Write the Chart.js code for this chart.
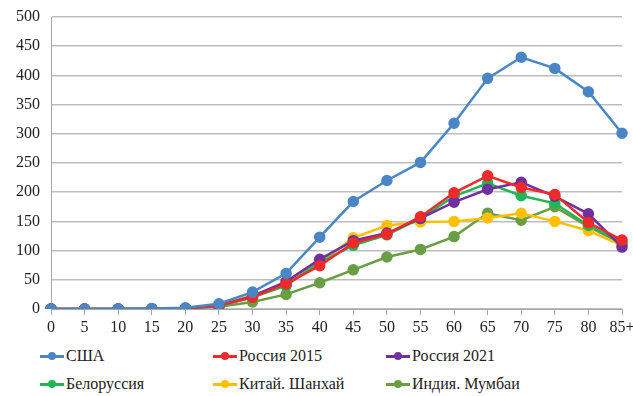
<!DOCTYPE html>
<html>
<head>
<meta charset="utf-8">
<script src="https://cdn.jsdelivr.net/npm/chart.js@4"></script>
<style>
  body { margin: 0; background: #fff; }
  #wrap { position: relative; width: 633px; height: 340px; }
  #legend { position: relative; width: 633px; height: 56px; color: #222; }
  .lab { position: absolute; white-space: nowrap; font-family: 'Liberation Serif'; font-size: 16px; line-height: 20px; }
  .mark { position: absolute; width: 24px; height: 10px; }
  .mark .ln { position: absolute; left: 0; right: 0; top: 4px; height: 2.5px; }
  .mark .pt { position: absolute; left: 8px; top: 1px; width: 8px; height: 8px; border-radius: 50%; }
</style>
</head>
<body>
<div id="wrap"><canvas id="ageChart" width="633" height="340"></canvas></div>
<div id="legend">
  <div class="lab" style="left:66px;top:6px">США</div>
  <div class="lab" style="left:239px;top:6px">Россия 2015</div>
  <div class="lab" style="left:412px;top:6px">Россия 2021</div>
  <div class="lab" style="left:66px;top:34px">Белоруссия</div>
  <div class="lab" style="left:239px;top:34px">Китай. Шанхай</div>
  <div class="lab" style="left:412px;top:34px">Индия. Мумбаи</div>
</div>
<script>
// age groups
const ages = ["0", "5", "10", "15", "20", "25", "30", "35", "40", "45", "50", "55", "60", "65", "70", "75", "80", "85+"];

// values per age group
const usa = [0, 0, 0, 1, 2, 9, 29, 61, 123, 184, 220, 251, 318, 395, 431, 412, 372, 301];
const russia2015 = [0, 0, 0, 0, 1, 6, 20, 43, 74, 113, 128, 158, 199, 228, 208, 196, 148, 118];
const russia2021 = [0, 0, 0, 0, 1, 6, 22, 47, 85, 117, 130, 155, 183, 205, 217, 193, 163, 106];
const belarus = [0, 0, 0, 0, 1, 5, 20, 40, 80, 109, 127, 155, 193, 215, 194, 181, 143, 114];
const shanghai = [0, 0, 0, 0, 1, 6, 23, 45, 79, 122, 143, 149, 150, 156, 164, 150, 134, 109];
const mumbai = [0, 0, 0, 0, 1, 4, 12, 25, 45, 67, 89, 102, 124, 164, 152, 175, 141, 112];

const names = ["США", "Россия 2015", "Россия 2021", "Белоруссия", "Китай. Шанхай", "Индия. Мумбаи"];
const colors = ["#4A86C5", "#EE2A2A", "#7030A0", "#22B556", "#FFC000", "#6A9E45"];
const series = [usa, russia2015, russia2021, belarus, shanghai, mumbai];

const font = { family: "'Liberation Serif'", size: 16 };

function draw() {
  Chart.defaults.font.family = "'Liberation Serif'";
  const chart = new Chart("ageChart", {
    type: "line",
    data: {
      labels: ages,
      datasets: series.map((d, i) => ({
        label: names[i],
        data: d,
        borderColor: colors[i],
        backgroundColor: colors[i],
        borderWidth: 2.5,
        pointRadius: 4.5,
        pointHoverRadius: 4.5,
        tension: 0
      }))
    },
    options: {
      responsive: false,
      animation: false,
      layout: { padding: { left: 0, right: 11, top: 17, bottom: 0 } },
      plugins: { legend: { display: false }, tooltip: { enabled: false } },
      scales: {
        x: {
          offset: false,
          grid: { drawOnChartArea: false, drawTicks: true, tickLength: 6, color: "#A6A6A6" },
          border: { color: "#A6A6A6" },
          ticks: { font: font, color: "#222", padding: 3, maxRotation: 0, autoSkip: false },
          afterFit: s => { s.height = 31; s.paddingLeft = 0; s.paddingRight = 0; }
        },
        y: {
          min: 0, max: 500,
          grid: { color: "#BDBDBD", lineWidth: 1.5, drawTicks: false },
          border: { color: "#A6A6A6" },
          ticks: { stepSize: 50, font: font, color: "#222", padding: 11 },
          afterFit: s => { s.width = 51; s.paddingTop = 0; s.paddingBottom = 0; }
        }
      }
    }
  });

  // line-and-dot markers next to the legend labels
  const legend = document.getElementById("legend");
  const colX = [40, 213, 386];
  const rowY = [11, 39];
  chart.data.datasets.forEach((ds, i) => {
    const m = document.createElement("div");
    m.className = "mark";
    m.style.left = colX[i % 3] + "px";
    m.style.top = rowY[Math.floor(i / 3)] + "px";
    m.innerHTML = '<span class="ln" style="background:' + ds.borderColor + '"></span>' +
      '<span class="pt" style="background:' + ds.borderColor + '"></span>';
    legend.appendChild(m);
  });
}

window.addEventListener("load", () => requestAnimationFrame(draw));
</script>
</body>
</html>
